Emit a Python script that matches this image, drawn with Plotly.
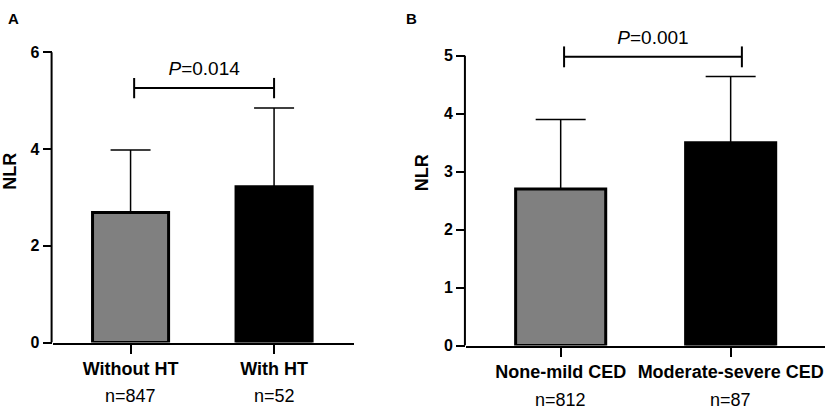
import plotly.graph_objects as go

# panel A: haemorrhagic transformation
cats_a = ["Without HT", "With HT"]
n_a = ["n=847", "n=52"]
mean_a = [2.69, 3.22]
sd_a = [1.29, 1.63]
p_a = "0.014"
yticks_a = [0, 2, 4, 6]

# panel B: cerebral edema
cats_b = ["None-mild CED", "Moderate-severe CED"]
n_b = ["n=812", "n=87"]
mean_b = [2.70, 3.50]
sd_b = [1.20, 1.14]
p_b = "0.001"
yticks_b = [0, 1, 2, 3, 4, 5]

bar_colors = ["#808080", "#000000"]
FONT = "Arial, Liberation Sans, sans-serif"

W, H = 829, 409
# plot areas in pixels: x from left to right, y from y=0 line to the top tick
box_a = dict(x=[52.5, 354], y=[342.5, 52.3])
box_b = dict(x=[466, 825], y=[345.5, 55.7])
ymax_a, ymax_b = 6, 5

fig = go.Figure()


def add_panel(fig, xa, ya, means, sds, p, cap, brk_x, brk_y, brk_h, p_y):
    fig.add_trace(go.Bar(
        x=[0, 1], y=means, width=0.53, xaxis=xa, yaxis=ya,
        marker=dict(color=bar_colors, line=dict(color="black", width=3)),
        error_y=dict(type="data", symmetric=False, array=sds, arrayminus=[0, 0],
                     color="black", thickness=1.5, width=cap),
        showlegend=False, hoverinfo="skip",
    ))
    # significance bracket
    x0, x1 = brk_x
    fig.add_trace(go.Scatter(
        x=[x0, x0, None, x0, x1, None, x1, x1],
        y=[brk_y - brk_h, brk_y + brk_h, None, brk_y, brk_y, None, brk_y - brk_h, brk_y + brk_h],
        mode="lines", line=dict(color="black", width=2),
        xaxis=xa, yaxis=ya, showlegend=False, hoverinfo="skip",
    ))
    fig.add_trace(go.Scatter(
        x=[(x0 + x1) / 2], y=[p_y], mode="text", text=["<i>P</i>=" + p],
        textfont=dict(family=FONT, size=19, color="black"),
        xaxis=xa, yaxis=ya, showlegend=False, hoverinfo="skip",
    ))


add_panel(fig, "x", "y", mean_a, sd_a, p_a, 20, (0.025, 1.0), 5.26, 0.21, 5.63)
add_panel(fig, "x2", "y2", mean_b, sd_b, p_b, 25, (0.02, 1.066), 4.98, 0.18, 5.29)

xax = dict(showline=True, linecolor="black", linewidth=2, ticks="outside", ticklen=9,
           tickwidth=2, tickcolor="black", showgrid=False, zeroline=False, automargin=False,
           tickvals=[0, 1], tickfont=dict(family=FONT, size=18, color="black", weight="bold"))
yax = dict(showline=False, ticks="outside", ticklen=9,
           tickwidth=2, tickcolor="black", showgrid=False, zeroline=False, automargin=False,
           tickfont=dict(family=FONT, size=16, color="black", weight="bold"),
           title=dict(text="NLR", font=dict(family=FONT, size=18, color="black", weight="bold"),
                      standoff=10))


def yaxis_for(box, ymax, ticks, anchor):
    # the plot area runs up to the top of the page so the bracket fits;
    # range keeps the same pixels per unit as the drawn 0..ymax axis
    bottom, top = box["y"]
    y0 = 1 - bottom / H
    span = (bottom - top) / H
    return dict(yax, domain=[y0, 1], range=[0, ymax * (1 - y0) / span], tickvals=ticks, anchor=anchor)


fig.update_layout(
    width=W, height=H,
    margin=dict(l=0, r=0, t=0, b=0),
    paper_bgcolor="white", plot_bgcolor="white",
    font=dict(family=FONT, color="black"),
    xaxis=dict(xax, domain=[box_a["x"][0] / W, box_a["x"][1] / W], range=[-0.544, 1.557],
               ticktext=cats_a, anchor="y"),
    yaxis=yaxis_for(box_a, ymax_a, yticks_a, "x"),
    xaxis2=dict(xax, domain=[box_b["x"][0] / W, box_b["x"][1] / W], range=[-0.557, 1.555],
                ticktext=cats_b, anchor="y2"),
    yaxis2=yaxis_for(box_b, ymax_b, yticks_b, "x2"),
)

# y axis lines stop at the top tick
for xa, ya, ymax in [("x", "y", ymax_a), ("x2", "y2", ymax_b)]:
    fig.add_shape(type="line", xref=xa + " domain", yref=ya, x0=-0.003, x1=-0.003, y0=0, y1=ymax,
                  line=dict(color="black", width=2))

# group sizes under the category labels
for i, t in enumerate(n_a):
    fig.add_annotation(x=i, xref="x", y=1 - 395.5 / H, yref="paper", text=t, showarrow=False,
                       xanchor="center", yanchor="middle",
                       font=dict(family=FONT, size=18, color="black"))
for i, t in enumerate(n_b):
    fig.add_annotation(x=i, xref="x2", y=1 - 399.5 / H, yref="paper", text=t, showarrow=False,
                       xanchor="center", yanchor="middle",
                       font=dict(family=FONT, size=18, color="black"))

# panel letters
for lbl, px in [("A", 13.3), ("B", 411.7)]:
    fig.add_annotation(x=px / W, y=1 - 18.5 / H, xref="paper", yref="paper", text=lbl,
                       showarrow=False, xanchor="center", yanchor="middle",
                       font=dict(family=FONT, size=15, color="black", weight="bold"))

fig.write_html("out.html", config={"displayModeBar": False},
               post_script="document.body.style.margin = '0';")
